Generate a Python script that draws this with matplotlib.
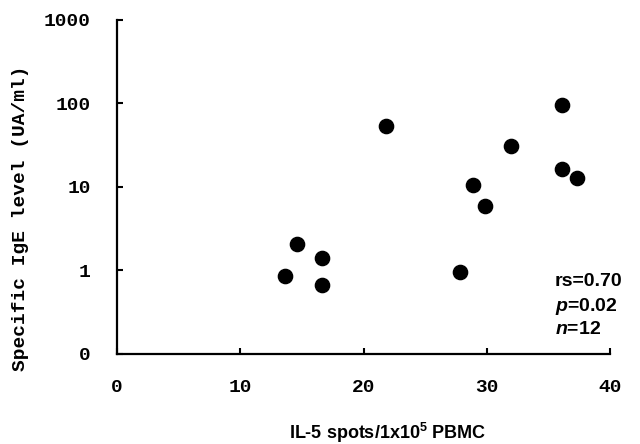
import matplotlib
matplotlib.use("Agg")
import matplotlib.pyplot as plt

# IL-5 spots vs specific IgE
il5_spots = [21.8, 36.1, 32.0, 36.1, 37.3, 28.9, 29.9, 14.6, 16.6, 13.6, 16.6, 27.8]
ige_level = [53, 97, 31, 16.5, 12.8, 10.6, 5.9, 2.06, 1.39, 0.85, 0.67, 0.97]

x_ticks = [0, 10, 20, 30, 40]
y_ticks = [0.1, 1, 10, 100, 1000]
y_tick_labels = ["0", "1", "10", "100", "1000"]

plt.rcParams['mathtext.fontset'] = 'custom'
plt.rcParams['mathtext.rm'] = 'Liberation Sans:bold'
plt.rcParams['mathtext.it'] = 'Liberation Sans:italic:bold'

fig = plt.figure(figsize=(6.4, 4.44), dpi=100)
ax = fig.add_axes([0.183, 0.203, 0.770, 0.752])

ax.scatter(il5_spots, ige_level, s=105, color="black", zorder=3)

ax.set_yscale("log")
ax.set_xlim(0, 40)
ax.set_ylim(0.1, 1000)
ax.set_xticks(x_ticks)
ax.set_xticklabels([str(t) for t in x_ticks])
ax.set_yticks(y_ticks)
ax.set_yticklabels(y_tick_labels)
ax.minorticks_off()

for side in ["top", "right"]:
    ax.spines[side].set_visible(False)
for side in ["left", "bottom"]:
    ax.spines[side].set_linewidth(1.6)

ax.tick_params(direction="in", length=4, width=1.5)
ax.tick_params(axis="x", pad=18)
ax.tick_params(axis="y", pad=19)
for lab in ax.get_xticklabels() + ax.get_yticklabels():
    lab.set_fontfamily("Liberation Mono")
    lab.set_fontweight("bold")
    lab.set_fontsize(14)

ax.set_ylabel("Specific IgE level (UA/ml)", family="Liberation Mono",
              fontweight="bold", fontsize=14, va="center", ha="center")
ax.yaxis.set_label_coords(-0.197, 0.405)
ax.set_xlabel(r"IL-5 spots/1x10$^5$ PBMC", family="Liberation Sans",
              fontweight="bold", fontsize=13, va="center", ha="center")
ax.xaxis.set_label_coords(0.548, -0.237)

stats = ["rs=0.70", r"$p$=0.02", r"$n$=12"]
stat_y = [0.216, 0.141, 0.072]
for s, yy in zip(stats, stat_y):
    ax.text(0.888, yy, s, transform=ax.transAxes,
            family="Liberation Sans", fontweight="bold", fontsize=14,
            va="center", ha="left")

fig.savefig("out.png", dpi=100)
